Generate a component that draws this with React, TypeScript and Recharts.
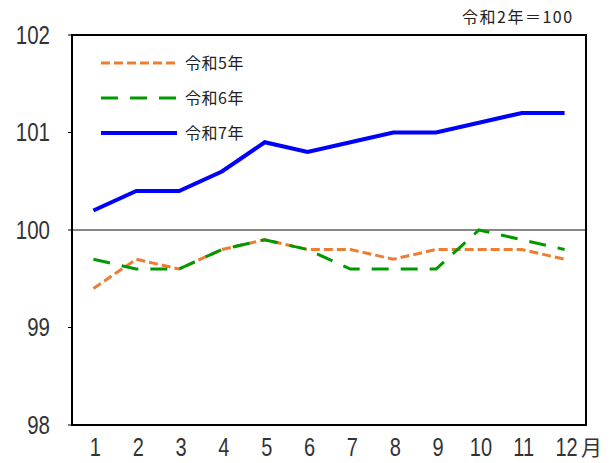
import { LineChart, Line, XAxis, YAxis, ReferenceLine } from 'recharts';

const months = ['1', '2', '3', '4', '5', '6', '7', '8', '9', '10', '11', '12'];
const r5 = [99.4, 99.7, 99.6, 99.8, 99.9, 99.8, 99.8, 99.7, 99.8, 99.8, 99.8, 99.7];
const r6 = [99.7, 99.6, 99.6, 99.8, 99.9, 99.8, 99.6, 99.6, 99.6, 100.0, 99.9, 99.8];
const r7 = [100.2, 100.4, 100.4, 100.6, 100.9, 100.8, 100.9, 101.0, 101.0, 101.1, 101.2, 101.2];
const yTicks = [98, 99, 100, 101, 102];

const data = months.map((m, i) => ({ month: m, r5: r5[i], r6: r6[i], r7: r7[i] }));

const numFont = "'Liberation Sans', Arial, sans-serif";
const jpFont = "'Noto Sans CJK JP', sans-serif";

// narrow-ish digits like the original
const MonthTick = (props: any) => {
  const { x, y, payload, index } = props;
  const cx = x + 2;
  return (
    <g>
      <text x={cx} y={y + 23} textAnchor="middle" fontFamily={numFont} fontSize={25} fill="#333"
        transform={`translate(${cx} 0) scale(0.8 1) translate(${-cx} 0)`}>
        {payload.value}
      </text>
      {index === months.length - 1 && (
        <text x={x + 27} y={y + 22} textAnchor="middle" fontFamily={jpFont} fontSize={21} fill="#333">
          月
        </text>
      )}
    </g>
  );
};

const ValueTick = (props: any) => {
  const { x, y, payload } = props;
  return (
    <text x={x} y={y + 9} textAnchor="end" fontFamily={numFont} fontSize={25} fill="#333"
      transform={`translate(${x} 0) scale(0.82 1) translate(${-x} 0)`}>
      {payload.value}
    </text>
  );
};

const legendItems = [
  { label: '令和5年', color: '#ED7D31', dash: '9 4', width: 3 },
  { label: '令和6年', color: '#009900', dash: '17 12', width: 3 },
  { label: '令和7年', color: '#0000FF', dash: undefined, width: 4 },
];

export default function App() {
  return (
    <div style={{ position: 'absolute', left: 0, top: 0, width: 616, height: 463, background: '#fff' }}>
      <LineChart width={616} height={463} data={data} margin={{ top: 35, right: 30, bottom: 8, left: 12 }}>
        <XAxis dataKey="month" scale="band" tick={<MonthTick />} tickLine={false}
          axisLine={{ stroke: '#000', strokeWidth: 2 }} height={30} interval={0} />
        <YAxis domain={[98, 102]} ticks={yTicks} width={60} tickSize={4} tickMargin={18}
          axisLine={{ stroke: '#000', strokeWidth: 2 }} tickLine={{ stroke: '#000' }}
          tick={<ValueTick />} />
        <ReferenceLine y={100} stroke="#888" strokeWidth={2} />
        <Line dataKey="r5" stroke="#ED7D31" strokeWidth={3} strokeDasharray="9 4" dot={false} isAnimationActive={false} />
        <Line dataKey="r6" stroke="#009900" strokeWidth={3} strokeDasharray="17 12" dot={false} isAnimationActive={false} />
        <Line dataKey="r7" stroke="#0000FF" strokeWidth={4} dot={false} isAnimationActive={false} />
      </LineChart>
      {/* plot frame */}
      <div style={{ position: 'absolute', left: 71, top: 34, width: 516, height: 392, boxSizing: 'border-box',
        border: '2px solid #000', pointerEvents: 'none' }} />
      <div style={{ position: 'absolute', left: 462, top: 4, fontFamily: jpFont, fontSize: 16, letterSpacing: 1.5,
        color: '#222', whiteSpace: 'nowrap' }}>
        令和2年＝100
      </div>
      <svg style={{ position: 'absolute', left: 95, top: 50 }} width={180} height={100}>
        {legendItems.map((it, i) => (
          <g key={it.label}>
            <line x1={6} x2={82} y1={13 + i * 35} y2={13 + i * 35} stroke={it.color} strokeWidth={it.width}
              strokeDasharray={it.dash} strokeLinecap="butt" />
            <text x={90} y={19 + i * 35} fontFamily={jpFont} fontSize={16} letterSpacing={0.5} fill="#222">{it.label}</text>
          </g>
        ))}
      </svg>
    </div>
  );
}
